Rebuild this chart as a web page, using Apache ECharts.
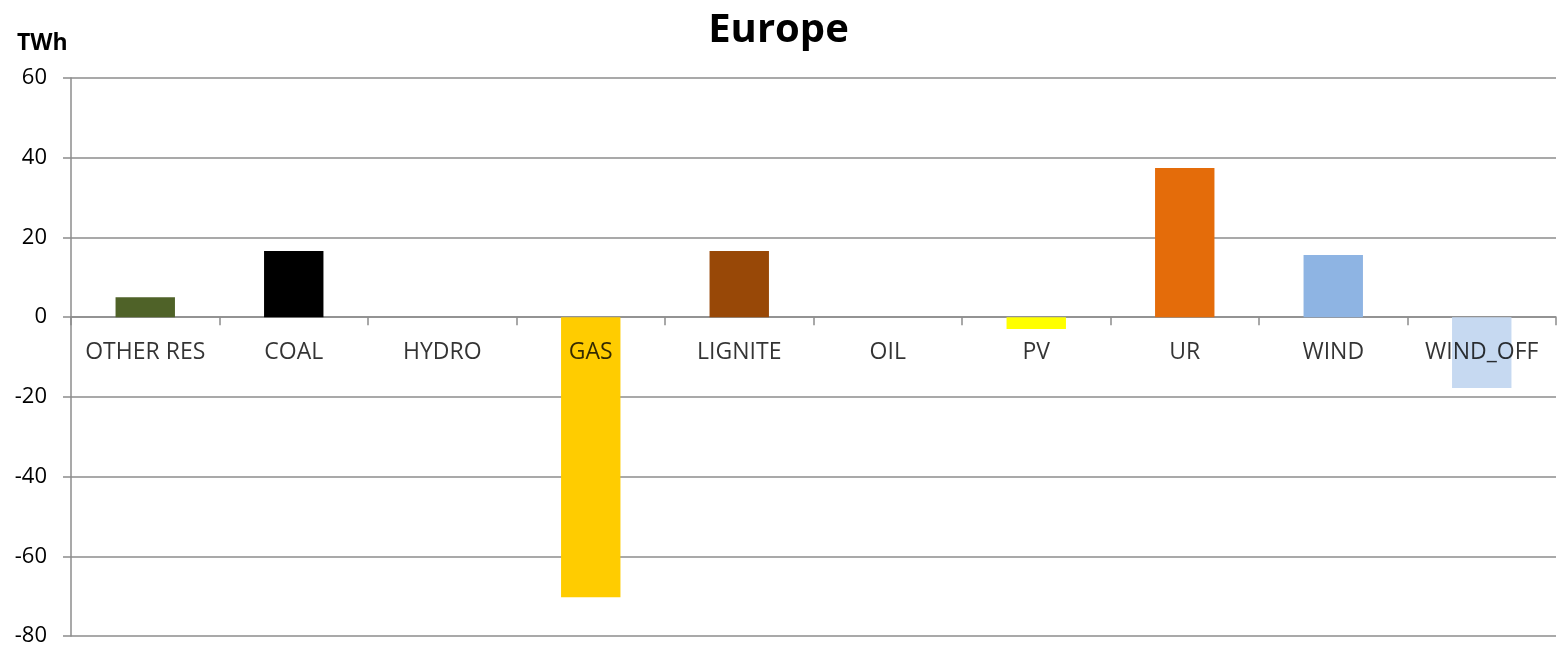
<!DOCTYPE html>
<html>
<head>
<meta charset="utf-8">
<script src="https://cdn.jsdelivr.net/npm/echarts@6/dist/echarts.min.js"></script>
<style>
  html, body { margin: 0; padding: 0; background: #ffffff; }
  #chart { width: 1557px; height: 648px; }
</style>
</head>
<body>
<div id="chart"></div>
<script>
// Change in generation by technology, Europe (TWh)
const categories = ['OTHER RES', 'COAL', 'HYDRO', 'GAS', 'LIGNITE', 'OIL', 'PV', 'UR', 'WIND', 'WIND_OFF'];
const values = [5.0, 16.6, 0, -70.3, 16.6, 0, -3.0, 37.4, 15.6, -17.8];
const colors = ['#4f6228', '#000000', '#4bacc6', '#ffcc00', '#984807', '#7f7f7f', '#ffff00', '#e46c0a', '#8eb4e3', '#c6d9f1'];
const yTicks = { min: -80, max: 60, interval: 20 };

const font = "'Open Sans', 'Liberation Sans', sans-serif";
const chart = echarts.init(document.getElementById('chart'), null, { renderer: 'canvas' });

chart.setOption({
  animation: false,
  backgroundColor: '#ffffff',
  title: {
    text: 'Europe',
    left: 'center',
    top: 6,
    textStyle: { fontFamily: font, fontSize: 40, fontWeight: 'bold', color: '#000' }
  },
  graphic: [{
    type: 'text',
    left: 17,
    top: 32,
    style: { text: 'TWh', font: "bold 23px 'Open Sans', 'Liberation Sans', sans-serif", fill: '#000' }
  }],
  grid: { left: 71, right: 1, top: 78, bottom: 12, outerBoundsMode: 'none', containLabel: false },
  xAxis: {
    type: 'category',
    data: categories,
    axisLine: { onZero: true, lineStyle: { color: '#8c8c8c', width: 1.5 } },
    axisTick: { show: true, length: 8, lineStyle: { color: '#8c8c8c', width: 1.5 } },
    axisLabel: { show: false },
    splitLine: { show: false }
  },
  yAxis: {
    type: 'value',
    min: yTicks.min,
    max: yTicks.max,
    interval: yTicks.interval,
    axisLine: { show: true, lineStyle: { color: '#8c8c8c', width: 1.5 } },
    axisTick: { show: true, length: 8, lineStyle: { color: '#8c8c8c', width: 1.5 } },
    axisLabel: { fontFamily: font, fontSize: 22, color: '#000', margin: 24 },
    splitLine: { show: true, lineStyle: { color: '#8c8c8c', width: 1.5 } }
  },
  series: [{
    type: 'bar',
    barWidth: '40%',
    z: 2,
    data: values.map((v, i) => ({ value: v, itemStyle: { color: colors[i] } }))
  }, {
    // category names sit just below the zero line, drawn above the bars
    type: 'scatter',
    z: 6,
    symbolSize: 0,
    silent: true,
    data: categories.map(c => [c, 0]),
    label: {
      show: true,
      position: 'bottom',
      distance: 24,
      formatter: p => p.data[0],
      fontFamily: font,
      fontSize: 23,
      color: '#000'
    }
  }]
});
</script>
</body>
</html>
